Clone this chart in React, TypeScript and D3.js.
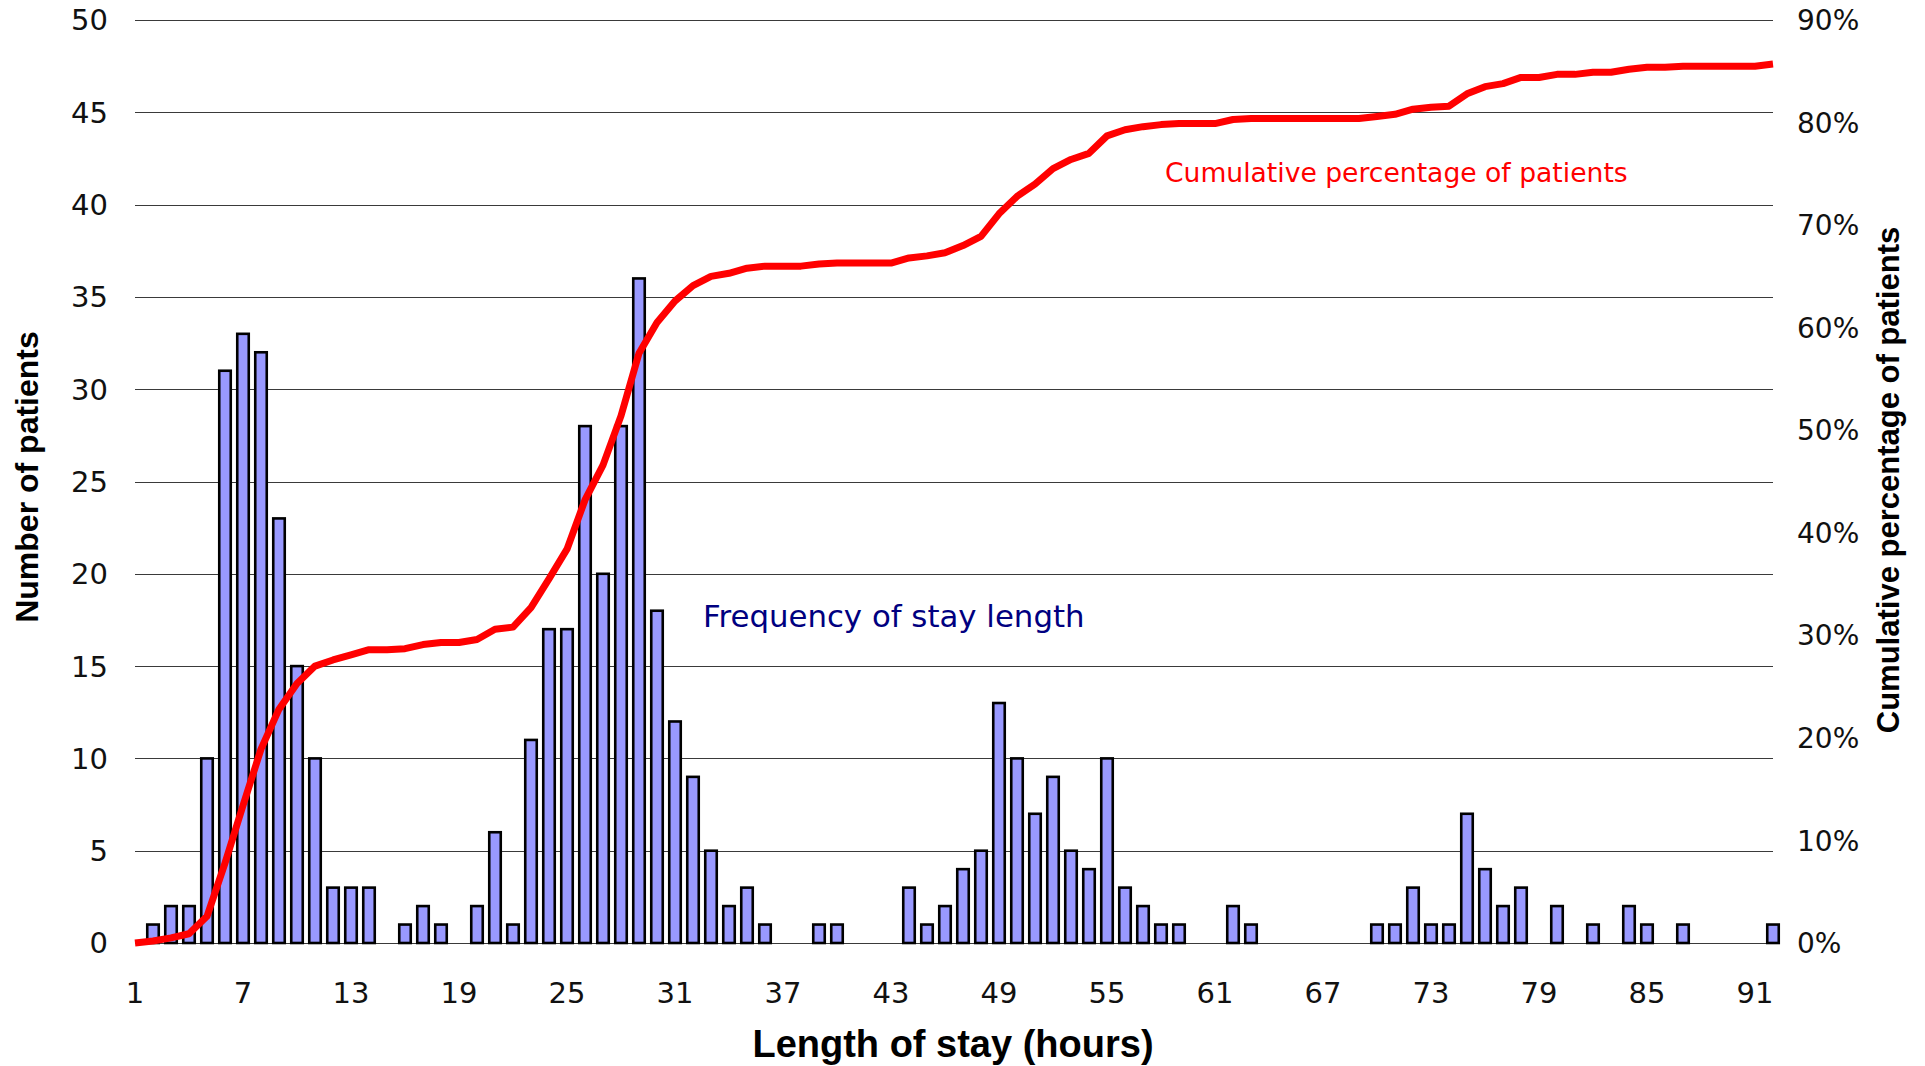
import React, {useEffect, useRef} from 'react';
import * as d3 from 'd3';

// hours 1..92 on the category axis
const hours = d3.range(1, 93)

// number of patients for each hour of stay
const counts = [
    0, 1, 2, 2, 10, 31, 33, 32, 23, 15,
    10, 3, 3, 3, 0, 1, 2, 1, 0, 2,
    6, 1, 11, 17, 17, 28, 20, 28, 36, 18,
    12, 9, 5, 2, 3, 1, 0, 0, 1, 1,
    0, 0, 0, 3, 1, 2, 4, 5, 13, 10,
    7, 9, 5, 4, 10, 3, 2, 1, 1, 0,
    0, 2, 1, 0, 0, 0, 0, 0, 0, 1,
    1, 3, 1, 1, 7, 4, 2, 3, 0, 2,
    0, 1, 0, 2, 1, 0, 1, 0, 0, 0,
    0, 1
]

// cumulative percentage of patients (%)
const cumulative = [
    0.0, 0.2, 0.5, 0.9, 2.6, 7.8, 13.4, 18.9, 22.8, 25.3,
    27.0, 27.6, 28.1, 28.6, 28.6, 28.7, 29.1, 29.3, 29.3, 29.6,
    30.6, 30.8, 32.7, 35.5, 38.4, 43.2, 46.6, 51.4, 57.5, 60.5,
    62.6, 64.1, 65.0, 65.3, 65.8, 66.0, 66.0, 66.0, 66.2, 66.3,
    66.3, 66.3, 66.3, 66.8, 67.0, 67.3, 68.0, 68.9, 71.1, 72.8,
    74.0, 75.5, 76.4, 77.0, 78.7, 79.3, 79.6, 79.8, 79.9, 79.9,
    79.9, 80.3, 80.4, 80.4, 80.4, 80.4, 80.4, 80.4, 80.4, 80.6,
    80.8, 81.3, 81.5, 81.6, 82.8, 83.5, 83.8, 84.4, 84.4, 84.7,
    84.7, 84.9, 84.9, 85.2, 85.4, 85.4, 85.5, 85.5, 85.5, 85.5,
    85.5, 85.7
]

const xTicks = [1, 7, 13, 19, 25, 31, 37, 43, 49, 55, 61, 67, 73, 79, 85, 91]
const leftTicks = [0, 5, 10, 15, 20, 25, 30, 35, 40, 45, 50]
const rightTicks = [0, 10, 20, 30, 40, 50, 60, 70, 80, 90]

const App = () => {

    const svgRef = useRef(null)

    const dimensions = {
        width: 1925,
        height: 1066,
        left: 135,
        right: 1773,
        top: 20,
        bottom: 943
    }

    const tickFont = '"DejaVu Sans", Verdana, sans-serif'
    const titleFont = '"Liberation Sans", Arial, sans-serif'

    useEffect(() => {

        const svg = d3.select(svgRef.current)
        svg.selectAll('*').remove()

        const xScale = d3.scaleLinear()
            .domain([1, 92])
            .range([dimensions.left, dimensions.right])

        const yScale = d3.scaleLinear()
            .domain([0, 50])
            .range([dimensions.bottom, dimensions.top])

        const pctScale = d3.scaleLinear()
            .domain([0, 90])
            .range([dimensions.bottom, dimensions.top])

        // gridlines
        svg.append('g')
            .selectAll('line')
            .data(leftTicks)
            .join('line')
            .attr('x1', dimensions.left)
            .attr('x2', dimensions.right)
            .attr('y1', d => Math.round(yScale(d)) + 0.5)
            .attr('y2', d => Math.round(yScale(d)) + 0.5)
            .attr('stroke', '#3a3a3a')
            .attr('stroke-width', 1)

        // bars
        const barWidth = 11.5
        svg.append('g')
            .selectAll('rect')
            .data(hours.filter((h, i) => counts[i] > 0))
            .join('rect')
            .attr('x', h => xScale(h) - barWidth / 2)
            .attr('y', h => yScale(counts[h - 1]))
            .attr('width', barWidth)
            .attr('height', h => yScale(0) - yScale(counts[h - 1]))
            .attr('fill', '#9999ff')
            .attr('stroke', '#000')
            .attr('stroke-width', 2.6)

        // cumulative line
        const lineGenerator = d3.line()
            .x(h => xScale(h))
            .y(h => pctScale(cumulative[h - 1]))

        svg.append('path')
            .attr('d', lineGenerator(hours))
            .attr('fill', 'none')
            .attr('stroke', '#ff0000')
            .attr('stroke-width', 7)
            .attr('stroke-linejoin', 'round')

        // left axis labels
        svg.append('g')
            .selectAll('text')
            .data(leftTicks)
            .join('text')
            .attr('x', 108)
            .attr('y', d => yScale(d))
            .attr('dy', '0.36em')
            .attr('text-anchor', 'end')
            .attr('font-family', tickFont)
            .attr('font-size', 29)
            .attr('fill', '#111')
            .text(d => d)

        // right axis labels
        svg.append('g')
            .selectAll('text')
            .data(rightTicks)
            .join('text')
            .attr('x', 1797)
            .attr('y', d => pctScale(d))
            .attr('dy', '0.36em')
            .attr('font-family', tickFont)
            .attr('font-size', 28)
            .attr('fill', '#111')
            .text(d => d + '%')

        // x axis labels
        svg.append('g')
            .selectAll('text')
            .data(xTicks)
            .join('text')
            .attr('x', d => xScale(d))
            .attr('y', 1003)
            .attr('text-anchor', 'middle')
            .attr('font-family', tickFont)
            .attr('font-size', 29)
            .attr('fill', '#111')
            .text(d => d)

        // axis titles
        svg.append('text')
            .attr('x', 953)
            .attr('y', 1057)
            .attr('text-anchor', 'middle')
            .attr('font-family', titleFont)
            .attr('font-weight', 'bold')
            .attr('font-size', 38)
            .text('Length of stay (hours)')

        svg.append('text')
            .attr('transform', 'translate(38, 477) rotate(-90)')
            .attr('text-anchor', 'middle')
            .attr('font-family', titleFont)
            .attr('font-weight', 'bold')
            .attr('font-size', 32)
            .text('Number of patients')

        svg.append('text')
            .attr('transform', 'translate(1899, 480) rotate(-90)')
            .attr('text-anchor', 'middle')
            .attr('font-family', titleFont)
            .attr('font-weight', 'bold')
            .attr('font-size', 31)
            .text('Cumulative percentage of patients')

        // series labels
        svg.append('text')
            .attr('x', 703)
            .attr('y', 627)
            .attr('font-family', tickFont)
            .attr('font-size', 30.8)
            .attr('fill', '#000080')
            .text('Frequency of stay length')

        svg.append('text')
            .attr('x', 1165)
            .attr('y', 182)
            .attr('font-family', tickFont)
            .attr('font-size', 26.6)
            .attr('fill', '#ff0000')
            .text('Cumulative percentage of patients')

    }, [])

    return (
        <svg
            ref={svgRef}
            width={dimensions.width}
            height={dimensions.height}
            style={{position: 'absolute', left: 0, top: 0, background: '#fff'}}
        />
    )
}

export default App;
